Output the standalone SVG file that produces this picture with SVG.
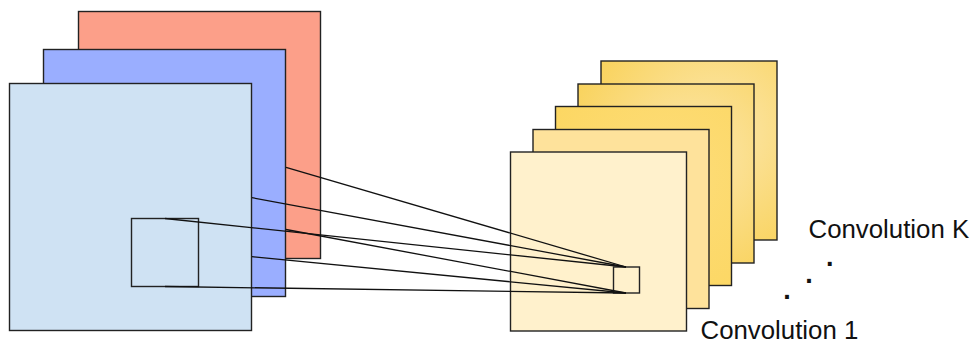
<svg xmlns="http://www.w3.org/2000/svg" width="976" height="349" viewBox="0 0 976 349">
  <style>
    .layer { stroke: #222; stroke-width: 1.4; }
    .conn { stroke: #111; stroke-width: 1.3; fill: none; }
    .lbl { font-family: "Liberation Sans", Arial, sans-serif; font-size: 25.8px; fill: #111; }
    .dot { font-family: "Liberation Sans", Arial, sans-serif; font-size: 27px; font-weight: bold; fill: #111; }
  </style>
  <defs>
    <radialGradient id="yg" cx="0.65" cy="0.4" r="0.75">
      <stop offset="0" stop-color="#FCE7AE"/>
      <stop offset="1" stop-color="#F9D35E"/>
    </radialGradient>
    <radialGradient id="yg3" cx="0.65" cy="0.4" r="0.75">
      <stop offset="0" stop-color="#FDDD7A"/>
      <stop offset="1" stop-color="#FCD763"/>
    </radialGradient>
  </defs>
  <rect width="976" height="349" fill="#fff"/>

  <g id="input-channel-3">
    <rect class="layer" x="78.5" y="11.5" width="242" height="247" fill="#FC9F89"/>
  </g>
  <g id="input-channel-2">
    <rect class="layer" x="43.5" y="49.5" width="242" height="247" fill="#9AAEFF"/>
  </g>
  <g id="input-channel-1">
    <rect class="layer" x="9.5" y="83.5" width="242" height="247" fill="#CFE2F3"/>
    <rect class="layer" x="131.5" y="218.5" width="67" height="68" fill="none"/>
  </g>

  <g id="output-map-5">
    <rect class="layer" x="601" y="61" width="176" height="179" fill="url(#yg)"/>
  </g>
  <g id="output-map-4">
    <rect class="layer" x="578" y="84" width="176" height="179" fill="url(#yg)"/>
  </g>
  <g id="output-map-3">
    <rect class="layer" x="555.5" y="106.5" width="176" height="179" fill="url(#yg3)"/>
  </g>
  <g id="output-map-2">
    <rect class="layer" x="533" y="129.5" width="176" height="179" fill="#FEE29B"/>
  </g>
  <g id="output-map-1">
    <rect class="layer" x="510.5" y="152" width="176" height="179" fill="#FFF1CC"/>
    <rect class="layer" x="613.5" y="267" width="26" height="26" fill="none"/>
  </g>

  <g id="connectors">
    <line class="conn" x1="286" y1="167.3" x2="626" y2="267"/>
    <line class="conn" x1="252" y1="197.7" x2="626" y2="267"/>
    <line class="conn" x1="165" y1="218.5" x2="626" y2="267"/>
    <line class="conn" x1="286" y1="229.5" x2="626" y2="293"/>
    <line class="conn" x1="252" y1="256.7" x2="626" y2="293"/>
    <line class="conn" x1="165" y1="286.5" x2="626" y2="293"/>
  </g>

  <g id="labels">
    <text class="lbl" x="808.5" y="237.5">Convolution K</text>
    <text class="lbl" x="700.5" y="339">Convolution 1</text>
    <text class="dot" x="826" y="266">.</text>
    <text class="dot" x="805.3" y="283">.</text>
    <text class="dot" x="783.3" y="298.7">.</text>
  </g>
</svg>
